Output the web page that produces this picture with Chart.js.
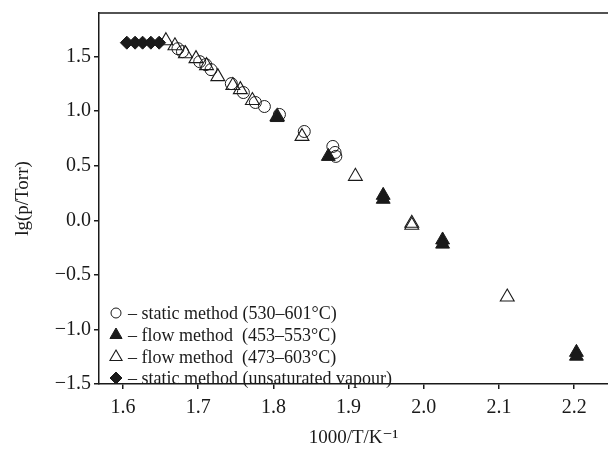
<!DOCTYPE html>
<html>
<head>
<meta charset="utf-8">
<script src="https://cdn.jsdelivr.net/npm/chart.js@4/dist/chart.umd.min.js"></script>
<style>
  html, body { margin: 0; padding: 0; background: #fff; overflow: hidden; }
  canvas { display: block; }
</style>
</head>
<body>
<canvas id="vpChart" width="608" height="457"></canvas>
<script>
// Data: x = 1000/T (K^-1), y = lg(p/Torr)
const staticX = [1.673, 1.679, 1.702, 1.710, 1.717, 1.744, 1.760, 1.776, 1.788, 1.808, 1.841, 1.879, 1.882, 1.883];
const staticY = [1.573, 1.546, 1.454, 1.427, 1.381, 1.253, 1.171, 1.080, 1.043, 0.970, 0.814, 0.677, 0.622, 0.586];

const flowLowX = [1.805, 1.873, 1.946, 1.946, 2.025, 2.025, 2.203, 2.203];
const flowLowY = [0.942, 0.586, 0.229, 0.193, -0.180, -0.218, -1.210, -1.245];

const flowHighX = [1.657, 1.669, 1.683, 1.697, 1.711, 1.726, 1.746, 1.756, 1.772, 1.805, 1.838, 1.909, 1.984, 1.984, 2.111];
const flowHighY = [1.646, 1.600, 1.527, 1.482, 1.418, 1.317, 1.235, 1.198, 1.098, 0.952, 0.769, 0.403, -0.027, -0.045, -0.703];

const unsatX = [1.605, 1.616, 1.626, 1.637, 1.648];
const unsatY = [1.628, 1.628, 1.628, 1.628, 1.628];

const seriesLabels = [
    '\u2013 static method (530\u2013601\u00B0C)',
    '\u2013 flow method  (453\u2013553\u00B0C)',
    '\u2013 flow method  (473\u2013603\u00B0C)',
    '\u2013 static method (unsaturated vapour)'
];

const xTitle = '1000/T/K\u207B\u00B9';
const yTitle = 'lg(p/Torr)';

const ink = '#1a1a1a';
const serif = "'Liberation Serif', 'DejaVu Serif', serif";

function toPoints(xs, ys) {
    return xs.map((x, i) => ({ x: x, y: ys[i] }));
}

function fmt(v) {
    const s = Math.abs(v).toFixed(1);
    return v < -1e-9 ? '\u2212' + s : s;
}

// legend drawn inside the plot, bottom-left, plus the top frame line
const innerLegend = {
    id: 'innerLegend',
    afterDraw(chart) {
        const ctx = chart.ctx;
        const area = chart.chartArea;
        ctx.save();
        ctx.strokeStyle = ink;
        ctx.lineWidth = 1.5;
        ctx.beginPath();
        ctx.moveTo(area.left, area.top);
        ctx.lineTo(area.right, area.top);
        ctx.stroke();

        ctx.font = '18px ' + serif;
        ctx.textBaseline = 'middle';
        const rows = [313, 335, 357, 378];
        chart.data.datasets.forEach((ds, i) => {
            const y = rows[i];
            ctx.strokeStyle = ink;
            ctx.fillStyle = ds.backgroundColor;
            ctx.lineWidth = ds.borderWidth;
            Chart.helpers.drawPoint(ctx, {
                pointStyle: ds.pointStyle,
                radius: ds.legendRadius,
                borderWidth: ds.borderWidth
            }, 116, y);
            ctx.fillStyle = ink;
            ctx.fillText(ds.label, 128, y + 1);
        });
        ctx.restore();
    }
};

new Chart(document.getElementById('vpChart'), {
    type: 'scatter',
    data: {
        datasets: [
            {
                label: seriesLabels[0],
                data: toPoints(staticX, staticY),
                pointStyle: 'circle',
                pointRadius: 6,
                legendRadius: 5,
                borderColor: ink,
                backgroundColor: 'rgba(255,255,255,0)',
                borderWidth: 1
            },
            {
                label: seriesLabels[1],
                data: toPoints(flowLowX, flowLowY),
                pointStyle: 'triangle',
                pointRadius: 8,
                legendRadius: 7,
                borderColor: ink,
                backgroundColor: ink,
                borderWidth: 1
            },
            {
                label: seriesLabels[2],
                data: toPoints(flowHighX, flowHighY),
                pointStyle: 'triangle',
                pointRadius: 8,
                legendRadius: 7,
                borderColor: ink,
                backgroundColor: 'rgba(255,255,255,0)',
                borderWidth: 1.1
            },
            {
                label: seriesLabels[3],
                data: toPoints(unsatX, unsatY),
                pointStyle: 'rectRot',
                pointRadius: 6.5,
                legendRadius: 6,
                borderColor: ink,
                backgroundColor: ink,
                borderWidth: 1
            }
        ]
    },
    options: {
        responsive: false,
        animation: false,
        layout: {
            autoPadding: false,
            padding: { top: 13, right: 0, left: 12, bottom: 0 }
        },
        plugins: {
            legend: { display: false },
            tooltip: { enabled: false }
        },
        scales: {
            x: {
                type: 'linear',
                min: 1.568,
                max: 2.245,
                afterFit: function(scale) {
                    scale.height = 73;
                    scale.paddingLeft = 0;
                    scale.paddingRight = 0;
                },
                ticks: {
                    stepSize: 0.1,
                    includeBounds: false,
                    color: ink,
                    padding: 7,
                    font: { family: serif, size: 20 },
                    callback: function(value) { return fmt(value); }
                },
                grid: {
                    drawOnChartArea: false,
                    drawTicks: true,
                    tickLength: 5,
                    color: ink,
                    lineWidth: 1.5
                },
                border: { display: true, color: ink, width: 1.5 },
                title: {
                    display: true,
                    text: xTitle,
                    color: ink,
                    font: { family: serif, size: 19 },
                    padding: { top: 0, bottom: 8 }
                }
            },
            y: {
                type: 'linear',
                min: -1.5,
                max: 1.9,
                afterFit: function(scale) {
                    scale.width = 87;
                    scale.paddingTop = 0;
                    scale.paddingBottom = 0;
                },
                ticks: {
                    stepSize: 0.5,
                    includeBounds: false,
                    color: ink,
                    padding: 3,
                    font: { family: serif, size: 20 },
                    callback: function(value) { return fmt(value); }
                },
                grid: {
                    drawOnChartArea: false,
                    drawTicks: true,
                    tickLength: 5,
                    color: ink,
                    lineWidth: 1.5
                },
                border: { display: true, color: ink, width: 1.5 },
                title: {
                    display: true,
                    text: yTitle,
                    color: ink,
                    font: { family: serif, size: 19 },
                    padding: { top: 0, bottom: 0 }
                }
            }
        }
    },
    plugins: [innerLegend]
});
</script>
</body>
</html>
